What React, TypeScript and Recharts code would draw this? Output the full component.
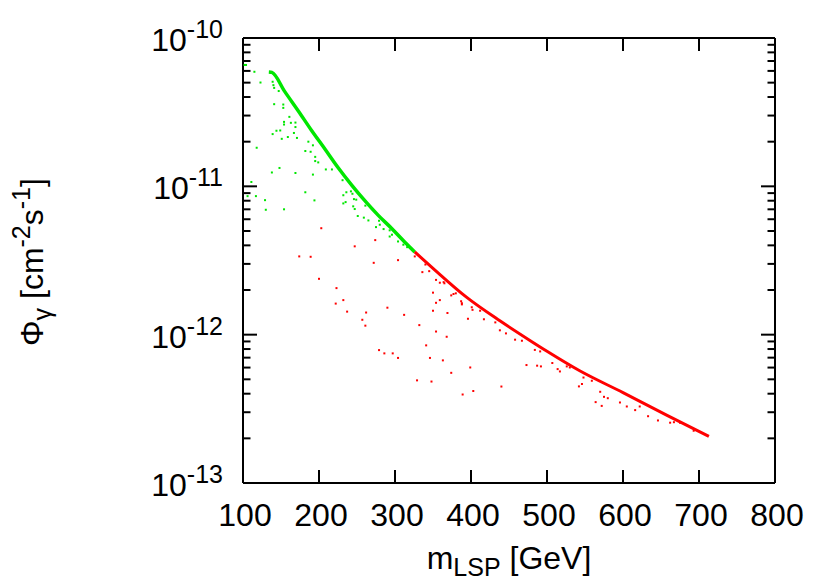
import React from "react";
import { ComposedChart, Line, Scatter, XAxis, YAxis } from "recharts";

// upper edge of the scan (green = part below ~325 GeV, red above)
const edgeGreen: [number, number][] = [
  [134, 5.9e-11], [138, 5.86e-11], [155, 4.35e-11], [173, 3.21e-11], [190, 2.39e-11],
  [208, 1.78e-11], [225, 1.34e-11], [243, 1.02e-11], [260, 8.04e-12], [278, 6.37e-12],
  [296, 5.18e-12], [313, 4.2e-12], [326, 3.61e-12],
];
const edgeRed: [number, number][] = [
  [326, 3.61e-12], [350, 2.8e-12], [394, 1.79e-12], [438, 1.24e-12], [478, 9.11e-13],
  [500, 7.73e-13], [543, 5.71e-13], [600, 4.07e-13], [658, 2.86e-13], [713, 2.06e-13],
];

// scattered model points below the edge
const greenPoints: [number, number][] = [
  [102, 6.58e-11], [104, 6.58e-11], [115, 5.92e-11], [123, 5.01e-11],
  [139, 5.07e-11], [140, 4.81e-11], [141, 4.61e-11], [147, 4.39e-11],
  [141, 3.58e-11], [153, 3.56e-11], [153, 3.38e-11], [161, 2.94e-11], [163, 2.68e-11],
  [154, 2.72e-11], [154, 2.61e-11], [169, 2.69e-11], [169, 2.51e-11],
  [139, 2.25e-11], [144, 2.37e-11], [149, 2.38e-11], [151, 2.09e-11], [159, 2.15e-11],
  [167, 2.29e-11], [171, 2.12e-11], [118, 1.82e-11], [182, 1.73e-11], [189, 1.71e-11],
  [195, 1.58e-11], [195, 1.48e-11], [199, 1.45e-11], [186, 2.0e-11], [192, 1.89e-11],
  [209, 1.3e-11], [217, 1.3e-11], [138, 1.24e-11], [148, 1.33e-11], [169, 1.23e-11],
  [192, 1.2e-11], [111, 1.07e-11], [231, 1.1e-11], [106, 8.59e-12], [117, 8.59e-12],
  [129, 8.07e-12], [182, 9.12e-12], [194, 8.04e-12], [232, 8.71e-12], [236, 9.12e-12],
  [235, 7.83e-12], [232, 7.67e-12], [130, 6.95e-12], [154, 7.0e-12],
  [242, 9.25e-12], [244, 8.91e-12], [246, 8.2e-12], [249, 8.13e-12], [245, 7.33e-12],
  [247, 7.03e-12], [251, 6.31e-12], [259, 6.15e-12], [265, 5.89e-12], [261, 7.41e-12],
  [275, 5.31e-12], [279, 5.86e-12], [280, 5.51e-12], [285, 5.15e-12], [293, 5.05e-12],
  [293, 4.59e-12], [296, 4.72e-12], [304, 4.25e-12], [311, 4.04e-12], [316, 3.89e-12],
];
const redPoints: [number, number][] = [
  [203, 5.22e-12], [274, 4.34e-12], [247, 3.94e-12], [174, 3.37e-12], [189, 3.35e-12],
  [272, 3.05e-12], [304, 3.18e-12], [200, 2.38e-12], [223, 2.06e-12], [232, 1.71e-12],
  [222, 1.62e-12], [237, 1.43e-12], [262, 1.41e-12], [290, 1.52e-12], [312, 1.36e-12],
  [257, 1.26e-12], [261, 1.15e-12], [279, 7.87e-13], [286, 7.48e-13], [297, 7.48e-13],
  [304, 6.97e-13], [332, 1.16e-12], [350, 1.92e-12], [354, 1.64e-12], [359, 1.71e-12],
  [350, 1.45e-12], [369, 1.4e-12], [354, 1.05e-12], [368, 9.68e-13], [341, 8.47e-13],
  [346, 6.97e-13], [363, 6.71e-13], [396, 1.28e-12], [417, 1.27e-12], [399, 6.01e-13],
  [374, 5.53e-13], [329, 4.92e-13], [348, 4.83e-13], [389, 3.95e-13], [403, 4.17e-13],
  [440, 4.47e-13], [473, 6.24e-13], [438, 1.07e-12], [446, 1.02e-12],
  [336, 2.64e-12], [354, 2.34e-12], [359, 2.24e-12], [365, 2.22e-12], [374, 1.84e-12],
  [380, 1.9e-12], [387, 1.68e-12], [388, 1.6e-12], [402, 1.47e-12],
  [326, 3.37e-12], [340, 2.97e-12], [345, 2.68e-12], [364, 2.26e-12], [377, 1.88e-12],
  [388, 1.63e-12], [401, 1.53e-12], [412, 1.45e-12], [432, 1.21e-12],
  [458, 9.25e-13], [467, 9.1e-13], [484, 7.89e-13], [491, 7.71e-13],
  [487, 6.18e-13], [492, 6.11e-13], [507, 6.44e-13], [514, 5.86e-13], [517, 5.65e-13],
  [526, 6.11e-13], [530, 6.01e-13], [542, 4.48e-13], [546, 4.65e-13], [548, 5.14e-13],
  [559, 4.89e-13], [564, 3.51e-13], [572, 3.31e-13], [570, 4.12e-13], [575, 3.81e-13],
  [580, 3.73e-13], [596, 3.49e-13], [605, 3.28e-13], [616, 3.1e-13], [622, 3.28e-13],
  [633, 2.82e-13], [646, 2.64e-13], [662, 2.55e-13], [667, 2.57e-13], [675, 2.55e-13],
  [693, 2.25e-13],
];

const xTicks = [100, 200, 300, 400, 500, 600, 700, 800];
const yDecades = [-13, -12, -11, -10];

const GREEN = "#00e600";
const RED = "#ff0000";
const FONT = "'Liberation Sans', Arial, Helvetica, sans-serif";

const toRows = (pts: [number, number][]) => pts.map(([m, v]) => ({ m, v }));

const yTicks: number[] = [];
yDecades.forEach((d, i) => {
  yTicks.push(Math.pow(10, d));
  if (i < yDecades.length - 1) {
    for (let k = 2; k <= 9; k++) yTicks.push(k * Math.pow(10, d));
  }
});

const isMajor = (v: number) => {
  const lg = Math.log10(v);
  return Math.abs(lg - Math.round(lg)) < 1e-6;
};

const dot = (color: string) => (props: any) => (
  <rect x={props.cx - 1} y={props.cy - 1} width={2} height={2} fill={color} />
);

const BottomTick = (p: any) => (
  <g>
    <line x1={p.x} x2={p.x} y1={p.y} y2={p.y - 13} stroke="#000" strokeWidth={2} />
    <text x={p.x + 2} y={p.y + 43} textAnchor="middle" fontFamily={FONT} fontSize={32} fill="#000">
      {p.payload.value}
    </text>
  </g>
);

const TopTick = (p: any) => (
  <line x1={p.x} x2={p.x} y1={p.y} y2={p.y + 13} stroke="#000" strokeWidth={2} />
);

const LeftTick = (p: any) => {
  const v = p.payload.value;
  const major = isMajor(v);
  return (
    <g>
      <line x1={p.x} x2={p.x + (major ? 14 : 7.5)} y1={p.y} y2={p.y} stroke="#000" strokeWidth={2} />
      {major && (
        <text x={p.x - 20} y={p.y + 13} textAnchor="end" fontFamily={FONT} fontSize={32} fill="#000">
          <tspan>10</tspan>
          <tspan dy={-13} fontSize={25}>{String(Math.round(Math.log10(v)))}</tspan>
        </text>
      )}
    </g>
  );
};

const RightTick = (p: any) => {
  const major = isMajor(p.payload.value);
  return (
    <line x1={p.x} x2={p.x - (major ? 14 : 7.5)} y1={p.y} y2={p.y} stroke="#000" strokeWidth={2} />
  );
};

export default function App() {
  const axisLine = { stroke: "#000", strokeWidth: 2 };
  return (
    <div style={{ position: "absolute", left: 0, top: 0, width: 830, height: 581, background: "#fff" }}>
      <ComposedChart width={830} height={581} margin={{ top: 0, right: 0, bottom: 0, left: 0 }}>
        <XAxis
          xAxisId="bottom" orientation="bottom" type="number" dataKey="m"
          domain={[100, 800]} ticks={xTicks} interval={0} allowDataOverflow
          height={98} tickSize={0} tickMargin={0} tickLine={false} axisLine={axisLine}
          tick={<BottomTick />}
        />
        <XAxis
          xAxisId="top" orientation="top" type="number" dataKey="m"
          domain={[100, 800]} ticks={xTicks} interval={0} allowDataOverflow
          height={38} tickSize={0} tickMargin={0} tickLine={false} axisLine={axisLine}
          tick={<TopTick />}
        />
        <YAxis
          yAxisId="left" orientation="left" type="number" scale="log"
          domain={[1e-13, 1e-10]} ticks={yTicks} interval={0} allowDataOverflow
          width={243} tickSize={0} tickMargin={0} tickLine={false} axisLine={axisLine}
          tick={<LeftTick />}
        />
        <YAxis
          yAxisId="right" orientation="right" type="number" scale="log"
          domain={[1e-13, 1e-10]} ticks={yTicks} interval={0} allowDataOverflow
          width={55} tickSize={0} tickMargin={0} tickLine={false} axisLine={axisLine}
          tick={<RightTick />}
        />
        <Scatter
          data={toRows(greenPoints)} dataKey="v" xAxisId="bottom" yAxisId="left"
          fill={GREEN} shape={dot(GREEN)} isAnimationActive={false}
        />
        <Scatter
          data={toRows(redPoints)} dataKey="v" xAxisId="bottom" yAxisId="left"
          fill={RED} shape={dot(RED)} isAnimationActive={false}
        />
        <Line
          data={toRows(edgeGreen)} dataKey="v" xAxisId="bottom" yAxisId="left"
          type="monotone" stroke={GREEN} strokeWidth={3.5} dot={false} isAnimationActive={false}
        />
        <Line
          data={toRows(edgeRed)} dataKey="v" xAxisId="bottom" yAxisId="left"
          type="monotone" stroke={RED} strokeWidth={3} dot={false} isAnimationActive={false}
        />
      </ComposedChart>
      <svg width={830} height={581} style={{ position: "absolute", left: 0, top: 0, pointerEvents: "none" }}>
        <text x={509} y={569} textAnchor="middle" fontFamily={FONT} fontSize={32} fill="#000">
          <tspan>m</tspan>
          <tspan dy={7} fontSize={25}>LSP</tspan>
          <tspan dy={-7}> [GeV]</tspan>
        </text>
        <text
          x={43} y={262} textAnchor="middle" fontFamily={FONT} fontSize={32} fill="#000"
          transform="rotate(-90, 43, 262)"
        >
          <tspan>Φ</tspan>
          <tspan dy={8} fontSize={25}>γ</tspan>
          <tspan dy={-8}> [cm</tspan>
          <tspan dy={-13} fontSize={25}>-2</tspan>
          <tspan dy={13}>s</tspan>
          <tspan dy={-13} fontSize={25}>-1</tspan>
          <tspan dy={13}>]</tspan>
        </text>
      </svg>
    </div>
  );
}
